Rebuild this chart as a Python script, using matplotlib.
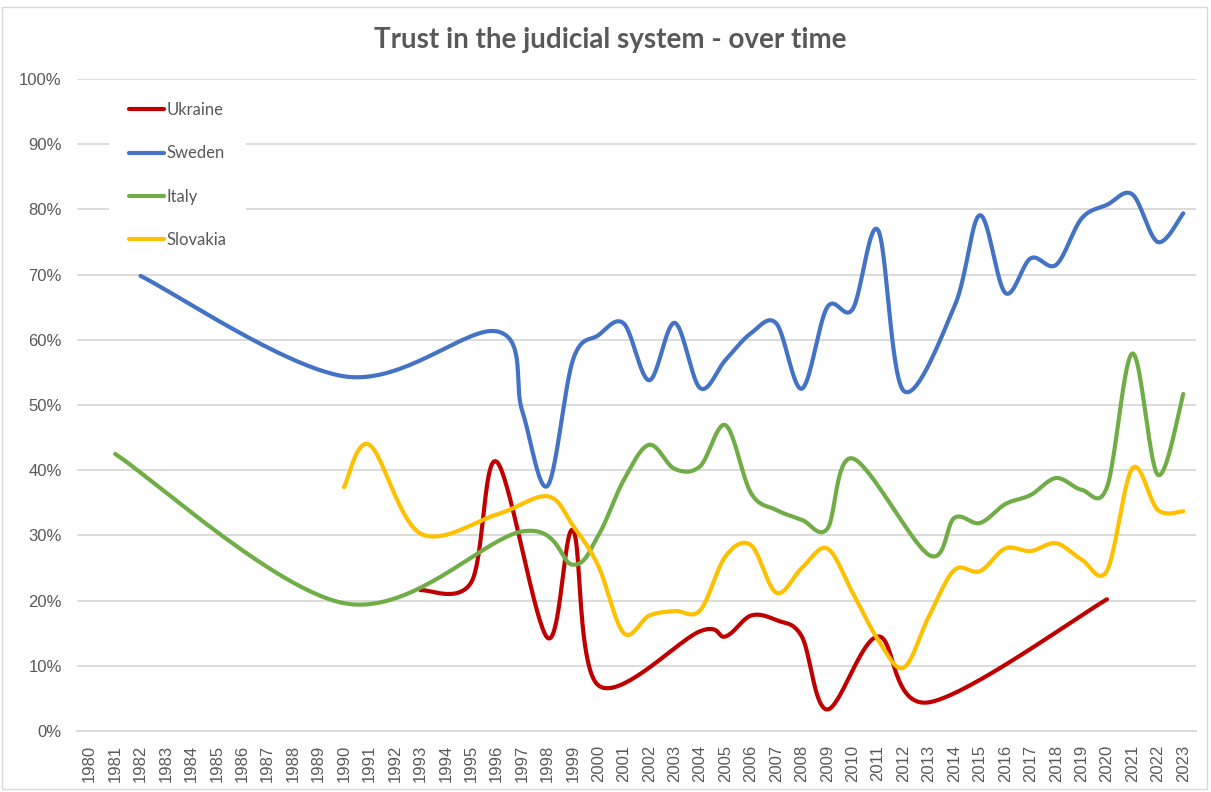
import matplotlib
matplotlib.use("Agg")
import matplotlib.pyplot as plt
import numpy as np
from matplotlib.patches import Rectangle

years = list(range(1980, 2024))

ukraine_years = [1993, 1995, 1996, 1998, 1999, 2000, 2004, 2005, 2006, 2007, 2008, 2009, 2011, 2013, 2020]
ukraine_vals = [21.6, 22.8, 41.3, 14.3, 30.8, 7.0, 15.3, 14.5, 17.7, 17.0, 14.5, 3.3, 14.5, 4.4, 20.2]

sweden_years = [1982, 1990, 1996, 1997, 1998, 1999, 2000, 2001, 2002, 2003, 2004, 2005, 2006, 2007,
                2008, 2009, 2010, 2011, 2012, 2014, 2015, 2016, 2017, 2018, 2019, 2020, 2021, 2022, 2023]
sweden_vals = [69.8, 54.4, 61.3, 49.2, 37.6, 56.9, 60.7, 62.5, 53.8, 62.6, 52.6, 56.9, 61.0, 62.5,
               52.5, 65.0, 64.7, 76.8, 52.2, 65.1, 79.1, 67.2, 72.5, 71.5, 78.6, 80.7, 82.3, 75.0, 79.4]

italy_years = [1981, 1990, 1997, 1999, 2000, 2001, 2002, 2003, 2004, 2005, 2006, 2007, 2008, 2009,
               2010, 2013, 2014, 2015, 2016, 2017, 2018, 2019, 2020, 2021, 2022, 2023]
italy_vals = [42.5, 19.6, 30.6, 25.5, 30.0, 38.5, 43.9, 40.2, 40.6, 46.9, 36.5, 33.9, 32.4, 31.0,
              41.8, 27.0, 32.7, 31.9, 34.8, 36.2, 38.8, 37.0, 37.4, 57.9, 39.3, 51.7]

slovakia_years = [1990, 1991, 1993, 1996, 1998, 1999, 2000, 2001, 2002, 2003, 2004, 2005, 2006, 2007,
                  2008, 2009, 2010, 2011, 2012, 2013, 2014, 2015, 2016, 2017, 2018, 2019, 2020, 2021,
                  2022, 2023]
slovakia_vals = [37.4, 43.9, 30.3, 33.2, 36.0, 31.5, 25.3, 15.0, 17.7, 18.4, 18.5, 26.8, 28.5, 21.2,
                 25.0, 28.0, 21.2, 14.0, 9.7, 17.6, 24.7, 24.5, 28.0, 27.6, 28.8, 26.3, 24.6, 40.3,
                 33.9, 33.7]

series = [
    ("Ukraine", ukraine_years, ukraine_vals, "#C00000"),
    ("Sweden", sweden_years, sweden_vals, "#4472C4"),
    ("Italy", italy_years, italy_vals, "#70AD47"),
    ("Slovakia", slovakia_years, slovakia_vals, "#FFC000"),
]


def excel_smooth(xs, ys, n=40):
    # bezier through the points, like the "smoothed line" option in Excel
    p = np.column_stack([xs, ys]).astype(float)
    t = np.linspace(0, 1, n)[1:, None]
    out = [p[:1]]
    for i in range(len(p) - 1):
        p0 = p[max(i - 1, 0)]
        p1, p2 = p[i], p[i + 1]
        p3 = p[min(i + 2, len(p) - 1)]
        c1 = p1 + (p2 - p0) / 6
        c2 = p2 - (p3 - p1) / 6
        seg = (1 - t) ** 3 * p1 + 3 * (1 - t) ** 2 * t * c1 + 3 * (1 - t) * t ** 2 * c2 + t ** 3 * p2
        out.append(seg)
    c = np.vstack(out)
    return c[:, 0], c[:, 1]


grey = "#595959"
fig = plt.figure(figsize=(12.11, 7.92), dpi=100)
fig.patches.append(Rectangle((0.002, 0.004), 0.995, 0.987, transform=fig.transFigure,
                             fill=False, edgecolor="#d9d9d9", linewidth=1))

ax = fig.add_axes([77 / 1211, 61 / 792, 1119 / 1211, 652 / 792])

for name, ys_years, vals, color in series:
    idx = [y - years[0] for y in ys_years]
    sx, sy = excel_smooth(idx, vals)
    ax.plot(sx, sy, color=color, linewidth=3, solid_capstyle="round", label=name)

ax.set_xlim(-0.5, len(years) - 0.5)
ax.set_ylim(0, 100)
ax.set_xticks(range(len(years)))
ax.set_xticklabels([str(y) for y in years], rotation=90, fontsize=12,
                   family="Liberation Sans", color=grey)
ax.set_yticks(range(0, 101, 10))
ax.set_yticklabels([f"{v}%" for v in range(0, 101, 10)], fontsize=12,
                   family="Liberation Sans", color=grey)
ax.tick_params(axis="both", length=0)
ax.tick_params(axis="x", pad=10)
ax.tick_params(axis="y", pad=11)
ax.grid(axis="y", color="#d9d9d9", linewidth=1.3)
ax.set_axisbelow(True)
for s in ["top", "right", "left"]:
    ax.spines[s].set_visible(False)
ax.spines["bottom"].set_color("#d9d9d9")
ax.spines["bottom"].set_linewidth(1.3)

leg = ax.legend(loc="upper left", bbox_to_anchor=(0.029, 0.995), frameon=True,
                facecolor="white", edgecolor="none", framealpha=1, fancybox=False,
                prop={"family": "Lato", "size": 12}, handlelength=2.1,
                handletextpad=0.12, labelspacing=1.63, borderpad=1.2, borderaxespad=0)
for txt in leg.get_texts():
    txt.set_color(grey)

fig.text(0.504, 0.949, "Trust in the judicial system - over time", ha="center", va="center",
         fontsize=20, fontweight="bold", family="Lato", color=grey)

fig.savefig("out.png", dpi=100)
